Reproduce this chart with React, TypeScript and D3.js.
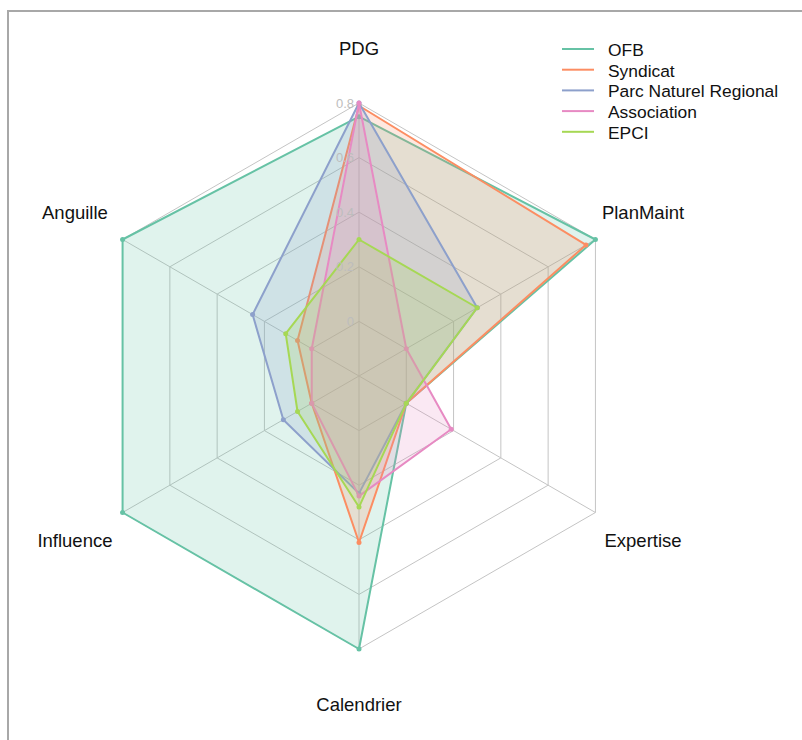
import { useEffect, useRef } from "react";
import * as d3 from "d3";

const axes = ["PDG", "PlanMaint", "Expertise", "Calendrier", "Influence", "Anguille"];
const seriesNames = ["OFB", "Syndicat", "Parc Naturel Regional", "Association", "EPCI"];
const colors = ["#66c2a5", "#fc8d62", "#8da0cb", "#e78ac3", "#a6d854"];

const ofb = [0.75, 0.8, 0, 0.8, 0.8, 0.8];
const syndicat = [0.79, 0.76, 0, 0.41, 0, 0.06];
const parc = [0.8, 0.3, 0, 0.23, 0.12, 0.25];
const association = [0.8, 0, 0.19, 0.24, 0, 0];
const epci = [0.3, 0.3, 0, 0.28, 0.06, 0.11];

const ticks = [0, 0.2, 0.4, 0.6, 0.8];

export default function App() {
  const svgRef = useRef<SVGSVGElement>(null);

  useEffect(() => {
    const width = 802, height = 740;
    const cx = 359, cy = 376, R = 273;
    const font = "Arial, 'Liberation Sans', sans-serif";

    const svg = d3.select(svgRef.current);
    svg.selectAll("*").remove();
    svg.attr("width", width).attr("height", height);

    // frame
    svg.append("rect")
      .attr("x", 8).attr("y", 11)
      .attr("width", 900).attr("height", 900)
      .attr("fill", "white")
      .attr("stroke", "#a8a8a8")
      .attr("stroke-width", 2);

    const r = d3.scaleLinear().domain([-0.2, 0.8]).range([0, R]);
    const angle = d3.scaleLinear().domain([0, axes.length]).range([0, 2 * Math.PI]);
    const pt = (i: number, v: number): [number, number] => {
      const a = angle(i);
      return [cx + r(v) * Math.sin(a), cy - r(v) * Math.cos(a)];
    };

    const g = svg.append("g");
    const closed = d3.line().curve(d3.curveLinearClosed);

    // rings
    ticks.forEach(t => {
      g.append("path")
        .attr("d", closed(axes.map((_, i) => pt(i, t))))
        .attr("fill", "none")
        .attr("stroke", "#c4c4c4")
        .attr("stroke-width", 1);
    });

    // spokes
    axes.forEach((_, i) => {
      const [x2, y2] = pt(i, 0.8);
      g.append("line")
        .attr("x1", cx).attr("y1", cy)
        .attr("x2", x2).attr("y2", y2)
        .attr("stroke", "#c4c4c4")
        .attr("stroke-width", 1);
    });

    // series
    const data = [ofb, syndicat, parc, association, epci];
    data.forEach((vals, s) => {
      const pts = vals.map((v, i) => pt(i, v));
      g.append("path")
        .attr("d", closed(pts))
        .attr("fill", colors[s])
        .attr("fill-opacity", 0.2)
        .attr("stroke", colors[s])
        .attr("stroke-width", 2)
        .attr("stroke-linejoin", "round");
      g.append("g")
        .selectAll("circle")
        .data(pts)
        .join("circle")
        .attr("cx", d => d[0])
        .attr("cy", d => d[1])
        .attr("r", 2.5)
        .attr("fill", colors[s]);
    });

    // tick labels
    g.append("g")
      .selectAll("text")
      .data(ticks)
      .join("text")
      .attr("x", cx - 5)
      .attr("y", d => cy - r(d))
      .attr("dy", "0.35em")
      .attr("text-anchor", "end")
      .attr("font-family", font)
      .attr("font-size", 13)
      .attr("fill", "#bdbdbd")
      .text(d => d3.format("")(d));

    // axis labels
    const labelR = R + 55;
    g.append("g")
      .selectAll("text")
      .data(axes)
      .join("text")
      .attr("x", (_, i) => cx + labelR * Math.sin(angle(i)))
      .attr("y", (_, i) => cy - labelR * Math.cos(angle(i)) + 1)
      .attr("dy", "0.35em")
      .attr("text-anchor", "middle")
      .attr("font-family", font)
      .attr("font-size", 18.5)
      .attr("fill", "#111")
      .text(d => d);

    // legend
    const legend = svg.append("g").attr("transform", "translate(562,50)");
    seriesNames.forEach((name, s) => {
      const row = legend.append("g").attr("transform", `translate(0,${s * 20.7})`);
      row.append("line")
        .attr("x1", 0).attr("x2", 32)
        .attr("y1", -1).attr("y2", -1)
        .attr("stroke", colors[s])
        .attr("stroke-width", 2);
      row.append("text")
        .attr("x", 46)
        .attr("y", 0)
        .attr("dy", "0.35em")
        .attr("font-family", font)
        .attr("font-size", 17.4)
        .attr("fill", "#111")
        .text(name);
    });
  }, []);

  return (
    <svg ref={svgRef} style={{ position: "absolute", left: 0, top: 0 }}></svg>
  );
}
